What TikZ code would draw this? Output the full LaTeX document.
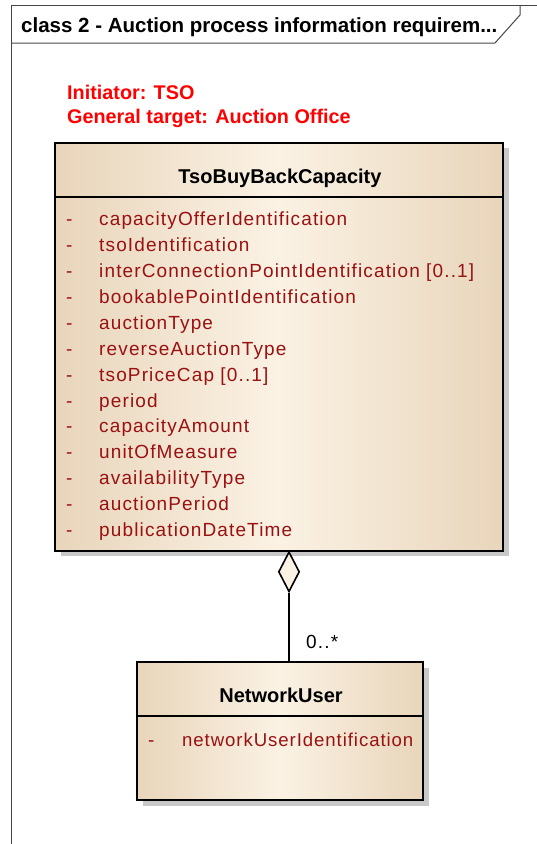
\documentclass[tikz,border=0pt]{standalone}
\usepackage{fontspec}
\setmainfont{Liberation Sans}
\newfontfamily\attrfont[LetterSpace=6]{Liberation Sans}
\newfontfamily\nuattrfont[LetterSpace=5]{Liberation Sans}
\usetikzlibrary{shapes.geometric,positioning}
\definecolor{classtan}{RGB}{232,213,187}
\definecolor{classcream}{RGB}{251,242,228}
\definecolor{attrred}{RGB}{153,17,17}
\definecolor{shadowgray}{RGB}{200,200,200}
\definecolor{framegray}{RGB}{70,70,70}

\begin{document}
\begin{tikzpicture}[x=1pt,y=-1pt,
  classbox/.style={draw=black,line width=1.6pt,left color=classtan,right color=classtan,middle color=classcream,inner sep=0pt},
  shadowbox/.style={fill=shadowgray,draw=none,inner sep=0pt},
  classname/.style={font=\bfseries\fontsize{20}{24}\selectfont,anchor=base,inner sep=0pt},
  attr/.style={text=attrred,font=\attrfont\fontsize{19}{23}\selectfont,anchor=base west,inner sep=0pt},
  note/.style={text=red,font=\bfseries\fontsize{19.8}{24}\selectfont,anchor=base west,inner sep=0pt},
  aggr/.style={diamond,draw=black,line width=1.6pt,fill=classcream,minimum width=21pt,minimum height=40pt,inner sep=0pt}]
  \useasboundingbox (0,0) rectangle (537,844);

  % Frame
  \draw[framegray,line width=1pt] (11,844) |- (537,5);
  \draw[framegray,line width=1pt] (11,43) -- (495,43) -- (520,15) -- (520,5);
  \node[font=\bfseries\fontsize{20.5}{24}\selectfont,anchor=base west,inner sep=0pt] (frametitle) at (21,32) {class 2 - Auction process information requirem...};

  % Notes
  \node[note] (initiator) at (67,99) {Initiator: TSO};
  \node[note] (target) at (67,123) {General target: Auction Office};

  % Classes
  \node[shadowbox,minimum width=448pt,minimum height=408pt] at (285,352) {};
  \node[classbox,minimum width=448pt,minimum height=408pt] (tso) at (279,347) {};
  \node[classname] (tsoname) at (280,183) {TsoBuyBackCapacity};
  \draw[line width=1.6pt] (tso.west |- 0,197) -- (tso.east |- 0,197);
  \foreach \attrname [count=\i] in {capacityOfferIdentification,tsoIdentification,
      interConnectionPointIdentification [0..1],bookablePointIdentification,auctionType,
      reverseAuctionType,tsoPriceCap [0..1],period,capacityAmount,unitOfMeasure,
      availabilityType,auctionPeriod,publicationDateTime} {
    \node[attr] (dash\i) at (66,{225.7+25.9*(\i-1)}) {-};
    \node[attr] (attr\i) at (99,{225.7+25.9*(\i-1)}) {\attrname};
  }

  \node[shadowbox,minimum width=286pt,minimum height=138pt] at (286,737) {};
  \node[classbox,minimum width=286pt,minimum height=138pt] (nu) at (280,731) {};
  \node[classname] (nuname) at (281,702) {NetworkUser};
  \draw[line width=1.6pt] (nu.west |- 0,716) -- (nu.east |- 0,716);
  \node[attr] (nudash) at (148,746) {-};
  \node[attr,font=\nuattrfont\fontsize{18.6}{22}\selectfont] (nuattr) at (182,746) {networkUserIdentification};

  % Aggregation
  \node[aggr,anchor=north] (agg) at (289,551) {};
  \draw[line width=1.6pt] (agg.south) -- (agg.south |- nu.north);
  \node[font=\attrfont\fontsize{19}{23}\selectfont,anchor=base west,inner sep=0pt] (mult) at (306,648) {0..*};
\end{tikzpicture}
\end{document}
